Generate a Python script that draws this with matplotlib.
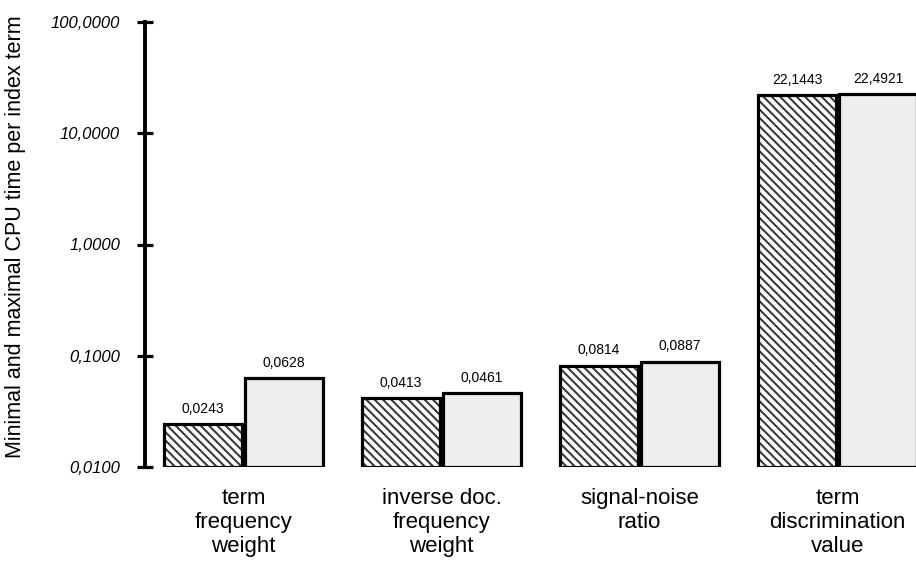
import matplotlib
matplotlib.use("Agg")
import matplotlib.pyplot as plt
import numpy as np

categories = ["term\nfrequency\nweight", "inverse doc.\nfrequency\nweight",
              "signal-noise\nratio", "term\ndiscrimination\nvalue"]
min_time = [0.0243, 0.0413, 0.0814, 22.1443]
max_time = [0.0628, 0.0461, 0.0887, 22.4921]
yticks = [0.01, 0.1, 1, 10, 100]
ytick_labels = ["0,0100", "0,1000", "1,0000", "10,0000", "100,0000"]

def fmt(v):
    return f"{v:.4f}".replace(".", ",")

plt.rcParams['font.family'] = ['Liberation Sans', 'DejaVu Sans']
plt.rcParams['hatch.linewidth'] = 1.5

fig = plt.figure(figsize=(9.16, 5.67), dpi=100)
ax = fig.add_axes([145/916, 100/567, (916-145)/916, 445/567])

x = np.arange(len(categories))
w = 0.394
off = w/2 + 0.0075
bottom = 0.01

ax.bar(x - off, np.array(min_time) - bottom, w, bottom=bottom, color='white',
       edgecolor='#3a3a3a', hatch='\\\\\\\\', linewidth=0)
ax.bar(x - off, np.array(min_time) - bottom, w, bottom=bottom, fill=False,
       edgecolor='black', linewidth=2.3)
ax.bar(x + off, np.array(max_time) - bottom, w, bottom=bottom, color='#eeeeee',
       edgecolor='black', linewidth=2.3)

for xi, v in zip(x - off, min_time):
    ax.annotate(fmt(v), (xi, v), xytext=(0, 6), textcoords='offset points',
                ha='center', va='bottom', fontsize=10)
for xi, v in zip(x + off, max_time):
    ax.annotate(fmt(v), (xi, v), xytext=(0, 6), textcoords='offset points',
                ha='center', va='bottom', fontsize=10)

ax.set_yscale('log')
ax.set_ylim(0.01, 100)
ax.set_xlim(-0.497, 3.396)
ax.set_yticks(yticks)
ax.set_yticklabels(ytick_labels, fontstyle='italic', fontsize=12)
ax.yaxis.set_minor_locator(matplotlib.ticker.NullLocator())
ax.tick_params(axis='y', direction='inout', length=12, width=2.3, pad=12)
ax.yaxis.get_major_ticks()[0].tick1line.set_linestyle((0, (2.5, 1.5)))
ax.set_xticks(x)
ax.set_xticklabels(categories, fontsize=16, linespacing=1.2)
ax.tick_params(axis='x', length=0, pad=15)

for s in ['top', 'right', 'bottom']:
    ax.spines[s].set_visible(False)
ax.spines['left'].set_linewidth(2.8)

fig.text(16/916, 330/567, "Minimal and maximal CPU time per index term",
         rotation=90, ha='center', va='center', fontsize=15.5)

fig.savefig("out.png", dpi=100)
